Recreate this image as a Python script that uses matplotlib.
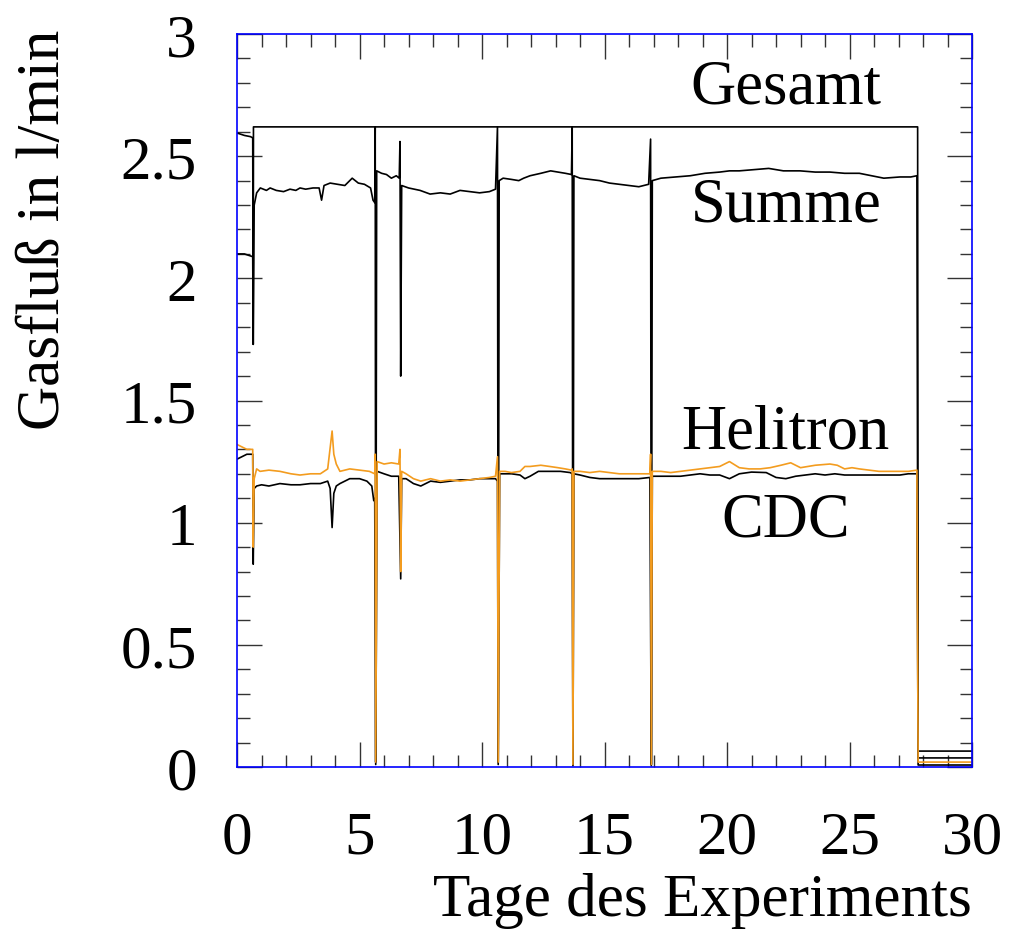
import matplotlib
matplotlib.use("Agg")
import matplotlib.pyplot as plt
from matplotlib.ticker import MultipleLocator, FuncFormatter

plt.rcParams['font.family'] = ['Liberation Serif', 'DejaVu Serif']

# Gesamt (total set flow)
gesamt_x = [0.0, 0.3, 0.55, 0.64, 0.66, 0.67, 27.78, 27.8, 30.0]
gesamt_y = [2.595, 2.585, 2.58, 2.575, 1.73, 2.62, 2.62, 0.065, 0.065]

# Summe (Helitron + CDC)
summe_x = [0.0, 0.3, 0.6, 0.64, 0.66, 0.70, 0.8, 0.95, 1.2, 1.35, 1.6, 1.9, 2.16, 2.4, 2.57,
           2.8, 3.1, 3.35, 3.45, 3.55, 3.8, 4.1, 4.4, 4.7, 4.95, 5.2, 5.45, 5.55, 5.62, 5.64,
           5.66, 5.70, 5.9, 6.1, 6.3, 6.5, 6.62, 6.65, 6.68, 6.72, 7.0, 7.47, 7.88, 8.3, 8.7,
           9.1, 9.5, 9.9, 10.3, 10.55, 10.63, 10.66, 10.70, 10.86, 11.2, 11.5, 11.7, 11.96,
           12.4, 12.8, 13.1, 13.4, 13.65, 13.68, 13.71, 13.75, 14.0, 14.4, 14.8, 15.2, 15.6,
           16.0, 16.4, 16.8, 16.88, 16.91, 16.95, 17.3, 17.9, 18.5, 19.1, 19.7, 20.1, 20.5,
           21.1, 21.7, 22.3, 22.98, 23.6, 24.2, 24.8, 25.4, 25.9, 26.4, 27.06, 27.5, 27.75,
           27.8, 30.0]
summe_y = [2.10, 2.10, 2.09, 2.09, 1.73, 2.30, 2.35, 2.37, 2.36, 2.37, 2.36, 2.355, 2.365, 2.36, 2.37,
           2.365, 2.37, 2.37, 2.32, 2.38, 2.39, 2.385, 2.38, 2.41, 2.39, 2.385, 2.37, 2.32, 2.31, 2.62,
           0.02, 2.44, 2.43, 2.425, 2.41, 2.42, 2.41, 2.56, 1.60, 2.38, 2.37, 2.36, 2.345, 2.35, 2.345,
           2.36, 2.355, 2.35, 2.355, 2.365, 2.62, 0.02, 2.40, 2.41, 2.405, 2.40, 2.41, 2.42,
           2.43, 2.44, 2.435, 2.43, 2.425, 2.62, 0.01, 2.42, 2.41, 2.405, 2.40, 2.39, 2.385,
           2.38, 2.375, 2.385, 2.57, 0.01, 2.40, 2.41, 2.415, 2.42, 2.43, 2.435, 2.44, 2.44,
           2.445, 2.45, 2.44, 2.44, 2.435, 2.435, 2.43, 2.43, 2.42, 2.41, 2.415, 2.415, 2.42,
           0.037, 0.037]

# Helitron
heli_x = [0.0, 0.2, 0.4, 0.6, 0.64, 0.66, 0.70, 0.8, 0.94, 1.3, 1.75, 2.2, 2.57, 3.0, 3.4,
          3.7, 3.88, 3.95, 4.05, 4.2, 4.6, 5.0, 5.4, 5.62, 5.64, 5.66, 5.72, 6.0, 6.3, 6.6,
          6.65, 6.68, 6.72, 6.9, 7.2, 7.5, 7.9, 8.3, 8.7, 9.1, 9.5, 9.9, 10.3, 10.55, 10.63,
          10.66, 10.72, 10.94, 11.2, 11.55, 11.75, 11.96, 12.4, 12.76, 13.1, 13.4, 13.65, 13.68,
          13.71, 13.75, 14.0, 14.4, 14.8, 15.2, 15.6, 16.0, 16.4, 16.85, 16.88, 16.91, 16.95,
          17.3, 17.7, 18.1, 18.5, 18.9, 19.3, 19.7, 20.1, 20.5, 20.9, 21.35, 21.76, 22.2, 22.6,
          23.0, 23.3, 23.6, 24.2, 24.5, 24.8, 25.1, 25.4, 25.8, 26.2, 26.6, 27.06, 27.4, 27.75,
          27.8, 30.0]
heli_y = [1.32, 1.31, 1.30, 1.30, 1.30, 0.90, 1.18, 1.22, 1.21, 1.215, 1.21, 1.20, 1.195, 1.20, 1.20,
          1.22, 1.375, 1.28, 1.24, 1.21, 1.22, 1.215, 1.21, 1.20, 1.28, 0.02, 1.25, 1.24, 1.245, 1.24,
          1.30, 0.80, 1.21, 1.20, 1.18, 1.17, 1.18, 1.17, 1.175, 1.17, 1.175, 1.18, 1.185, 1.19, 1.27,
          0.02, 1.21, 1.21, 1.205, 1.21, 1.23, 1.23, 1.235, 1.23, 1.225, 1.22, 1.215, 1.22,
          0.01, 1.21, 1.21, 1.205, 1.21, 1.205, 1.20, 1.20, 1.20, 1.20, 1.28, 0.01, 1.21,
          1.21, 1.205, 1.21, 1.215, 1.22, 1.225, 1.23, 1.25, 1.225, 1.22, 1.22, 1.225, 1.235, 1.245,
          1.225, 1.23, 1.235, 1.24, 1.235, 1.22, 1.225, 1.22, 1.215, 1.21, 1.21, 1.21, 1.21, 1.215,
          0.02, 0.02]

# CDC
cdc_x = [0.0, 0.2, 0.4, 0.6, 0.64, 0.66, 0.70, 0.8, 1.0, 1.3, 1.75, 2.2, 2.57, 3.0, 3.4,
         3.7, 3.8, 3.88, 3.95, 4.05, 4.2, 4.6, 5.0, 5.3, 5.5, 5.58, 5.62, 5.66, 5.72, 6.0,
         6.3, 6.6, 6.68, 6.72, 6.9, 7.2, 7.5, 7.9, 8.3, 8.7, 9.1, 9.5, 9.9, 10.3, 10.55,
         10.63, 10.66, 10.72, 10.94, 11.2, 11.55, 11.75, 11.96, 12.3, 12.8, 13.2, 13.6, 13.68,
         13.71, 13.75, 14.0, 14.4, 14.8, 15.2, 15.6, 16.0, 16.4, 16.85, 16.91, 16.95, 17.3,
         17.7, 18.1, 18.5, 18.9, 19.3, 19.7, 20.1, 20.5, 21.0, 21.6, 22.0, 22.4, 22.8, 23.2,
         23.6, 24.0, 24.4, 24.8, 25.4, 26.0, 26.6, 27.06, 27.4, 27.75, 27.8, 30.0]
cdc_y = [1.26, 1.27, 1.28, 1.28, 1.28, 0.83, 1.14, 1.15, 1.155, 1.15, 1.16, 1.155, 1.155, 1.16, 1.16,
         1.17, 1.14, 0.98, 1.12, 1.15, 1.16, 1.18, 1.18, 1.17, 1.15, 1.09, 1.10, 0.01, 1.21, 1.20,
         1.19, 1.19, 0.77, 1.18, 1.18, 1.16, 1.15, 1.17, 1.165, 1.17, 1.175, 1.175, 1.18, 1.18, 1.18,
         1.17, 0.01, 1.20, 1.20, 1.20, 1.195, 1.18, 1.19, 1.21, 1.21, 1.21, 1.205, 1.20,
         0.005, 1.20, 1.195, 1.185, 1.18, 1.18, 1.18, 1.18, 1.18, 1.185, 0.005, 1.19, 1.19,
         1.19, 1.19, 1.195, 1.20, 1.195, 1.195, 1.18, 1.20, 1.207, 1.205, 1.185, 1.18, 1.19, 1.195,
         1.20, 1.195, 1.20, 1.195, 1.195, 1.195, 1.195, 1.195, 1.20, 1.20, 0.008, 0.008]

labels = ["Gesamt", "Summe", "Helitron", "CDC"]
label_pos = [(22.4, 2.78), (22.4, 2.30), (22.4, 1.37), (22.4, 1.01)]

fig = plt.figure(figsize=(10.10, 9.37), dpi=100)
ax = fig.add_axes([0.2347, 0.1804, 0.7277, 0.7822])

ax.plot(gesamt_x, gesamt_y, color='black', lw=1.2)
ax.plot(summe_x, summe_y, color='black', lw=1.2)
ax.plot(cdc_x, cdc_y, color='black', lw=1.2)
ax.plot(heli_x, heli_y, color='#F39C1F', lw=1.2)

for txt, (tx, ty) in zip(labels, label_pos):
    ax.text(tx, ty, txt, fontsize=45, ha='center', va='center')

ax.set_xlim(0, 30)
ax.set_ylim(0, 3)
ax.xaxis.set_major_locator(MultipleLocator(5))
ax.xaxis.set_minor_locator(MultipleLocator(1))
ax.yaxis.set_major_locator(MultipleLocator(0.5))
ax.yaxis.set_minor_locator(MultipleLocator(0.1))
ax.yaxis.set_major_formatter(FuncFormatter(lambda v, p: '%g' % v))
ax.tick_params(which='both', direction='in', top=True, right=True, color='#333333', width=1.0)
ax.tick_params(which='major', length=18, labelsize=44)
ax.tick_params(which='minor', length=9)
ax.tick_params(axis='x', which='major', pad=31)
ax.tick_params(axis='y', which='major', pad=29)
for s in ax.spines.values():
    s.set_color('#0000ff')
    s.set_linewidth(1.2)

ax.set_xlabel("Tage des Experiments", fontsize=44, loc='right', labelpad=5)
ax.set_ylabel("Gasfluß in l/min", fontsize=44, loc='top')
ax.yaxis.set_label_coords(-0.224, 1.007)

fig.savefig("out.png", dpi=100)
